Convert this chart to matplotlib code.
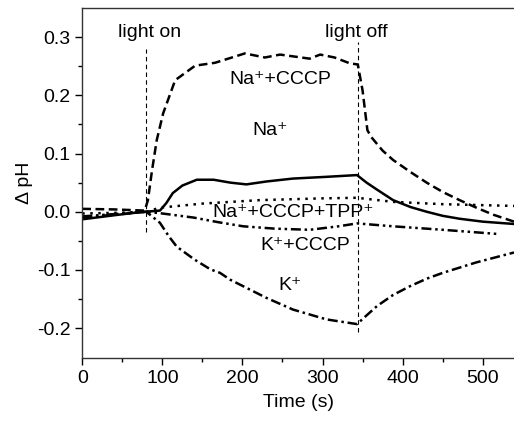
import matplotlib
matplotlib.use("Agg")
import matplotlib.pyplot as plt
import numpy as np

plt.rcParams['font.family'] = ['Liberation Sans', 'DejaVu Sans']

# Na+ + CCCP (dashed)
t_nacccp = [0, 40, 78, 82, 87, 93, 101, 116, 141, 166, 203, 228, 247, 284, 297, 315, 334, 344,
            350, 356, 361, 375, 388, 410, 430, 450, 471, 492, 513, 539]
y_nacccp = [0.005, 0.004, 0.002, 0.02, 0.07, 0.123, 0.169, 0.226, 0.251, 0.256, 0.272, 0.265, 0.27,
            0.263, 0.27, 0.265, 0.255, 0.253, 0.208, 0.14, 0.128, 0.105, 0.089, 0.068, 0.05, 0.034,
            0.02, 0.007, -0.005, -0.017]

# Na+ (solid)
t_na = [0, 40, 70, 97, 105, 113, 125, 143, 164, 185, 205, 230, 263, 305, 343, 355, 368, 388, 410,
        430, 450, 471, 500, 539]
y_na = [-0.013, -0.006, -0.001, 0.002, 0.015, 0.032, 0.045, 0.055, 0.055, 0.05, 0.047, 0.052,
        0.057, 0.06, 0.063, 0.05, 0.038, 0.02, 0.008, 0.0, -0.007, -0.012, -0.017, -0.021]

# Na+ + CCCP + TPP+ (dotted)
t_tpp = [0, 40, 80, 97, 150, 222, 300, 343, 388, 450, 539]
y_tpp = [-0.003, -0.002, 0.0, 0.007, 0.014, 0.02, 0.023, 0.024, 0.017, 0.013, 0.01]

# K+ + CCCP (dash-dot-dot)
t_kcccp = [0, 40, 80, 100, 139, 170, 201, 240, 284, 320, 343, 388, 450, 517]
y_kcccp = [-0.008, -0.004, 0.0, -0.003, -0.01, -0.018, -0.025, -0.029, -0.031, -0.025, -0.02,
           -0.025, -0.031, -0.038]

# K+ (dash-dot)
t_k = [0, 40, 80, 97, 108, 118, 140, 160, 172, 185, 201, 230, 263, 305, 343, 355, 368, 388, 409,
       430, 450, 492, 539]
y_k = [-0.01, -0.005, 0.0, -0.019, -0.042, -0.06, -0.082, -0.099, -0.105, -0.117, -0.128, -0.148,
       -0.168, -0.185, -0.193, -0.178, -0.162, -0.143, -0.128, -0.115, -0.105, -0.087, -0.07]

light_on = 79
light_off = 344

fig = plt.figure(figsize=(5.14, 4.22), dpi=100)
ax = fig.add_axes([0.16, 0.152, 0.84, 0.829])

lw = 1.8
ax.plot(t_nacccp, y_nacccp, color='black', lw=lw, linestyle=(0, (3.5, 1.8)))
ax.plot(t_na, y_na, color='black', lw=lw, linestyle='-')
ax.plot(t_tpp, y_tpp, color='black', lw=lw, linestyle=(0, (1, 2.2)))
ax.plot(t_kcccp, y_kcccp, color='black', lw=lw, linestyle=(0, (4, 1.5, 1, 1.5, 1, 1.5)))
ax.plot(t_k, y_k, color='black', lw=lw, linestyle=(0, (4, 1.5, 1, 1.5)))

ax.plot([light_on, light_on], [-0.035, 0.28], color='black', lw=0.8, linestyle=(0, (4, 3)))
ax.plot([light_off, light_off], [-0.207, 0.292], color='black', lw=0.8, linestyle=(0, (4, 3)))

fs = 14
fam = ['Liberation Sans', 'DejaVu Sans']
ax.text(84, 0.294, 'light on', ha='center', va='bottom', fontsize=fs, family=fam)
ax.text(342, 0.294, 'light off', ha='center', va='bottom', fontsize=fs, family=fam)
ax.text(247, 0.228, 'Na⁺+CCCP', ha='center', va='center', fontsize=fs, family=fam)
ax.text(235, 0.139, 'Na⁺', ha='center', va='center', fontsize=fs, family=fam)
ax.text(263, -0.001, 'Na⁺+CCCP+TPP⁺', ha='center', va='center', fontsize=fs, family=fam)
ax.text(278, -0.058, 'K⁺+CCCP', ha='center', va='center', fontsize=fs, family=fam)
ax.text(259, -0.127, 'K⁺', ha='center', va='center', fontsize=fs, family=fam)

ax.set_xlim(0, 539)
ax.set_ylim(-0.251, 0.35)
ax.set_xticks([0, 100, 200, 300, 400, 500])
ax.set_xticks([50, 150, 250, 350, 450], minor=True)
ax.set_yticks([-0.2, -0.1, 0.0, 0.1, 0.2, 0.3])
ax.set_yticks([-0.15, -0.05, 0.05, 0.15, 0.25], minor=True)
ax.set_yticklabels(['-0.2', '-0.1', '0.0', '0.1', '0.2', '0.3'])

ax.spines['right'].set_visible(False)
for s in ['left', 'bottom', 'top']:
    ax.spines[s].set_linewidth(1.0)
    ax.spines[s].set_color('#333333')
ax.tick_params(axis='both', which='major', labelsize=fs, length=5, width=1.0, direction='out')
ax.tick_params(axis='both', which='minor', length=3, width=1.0, direction='out')
ax.tick_params(axis='x', which='both', top=False)

ax.set_xlabel('Time (s)', fontsize=fs, labelpad=5)
ax.set_ylabel('Δ pH', fontsize=fs, labelpad=3)

fig.savefig('out.png', dpi=100)
